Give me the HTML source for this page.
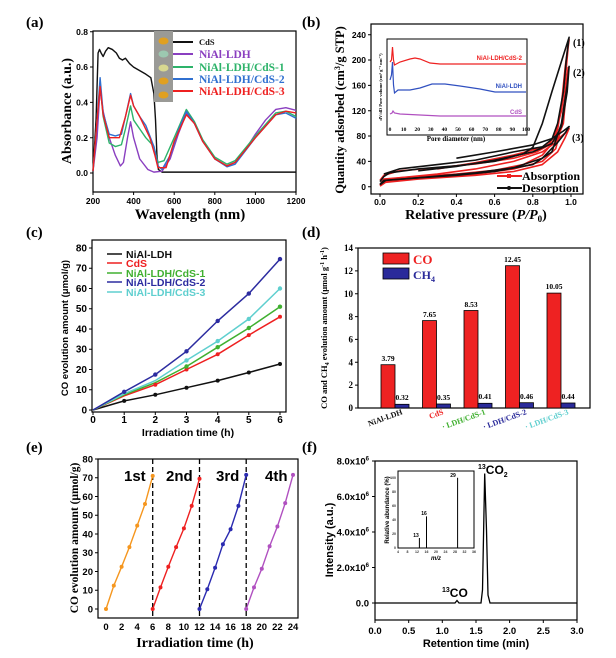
<!DOCTYPE html>
<html><head><meta charset="utf-8"><style>body{margin:0;background:#fff}svg{display:block}
.s{font-family:"Liberation Sans",sans-serif;font-weight:bold}
.r{font-family:"Liberation Serif",serif;font-weight:bold}
.n{vector-effect:non-scaling-stroke;fill:none}
</style></head><body>
<svg width="616" height="658" viewBox="0 0 616 658" xmlns="http://www.w3.org/2000/svg">
<!-- ========== (a) ========== -->
<text x="26" y="27" class="r" font-size="15">(a)</text>
<rect x="93" y="31" width="203" height="161" fill="none" stroke="#000" stroke-width="1.2"/>
<g stroke="#000" stroke-width="1"><path d="M90 31.7h3M90 67h3M90 102.4h3M90 137.7h3M90 173h3M93 192v3M133.6 192v3M174.2 192v3M214.8 192v3M255.4 192v3M296 192v3"/></g>
<g class="s" font-size="8.5" text-anchor="end"><text x="88" y="35">0.8</text><text x="88" y="70">0.6</text><text x="88" y="105.5">0.4</text><text x="88" y="141">0.2</text><text x="88" y="176">0.0</text></g>
<g class="s" font-size="8.5" text-anchor="middle"><text x="93" y="204">200</text><text x="133.6" y="204">400</text><text x="174.2" y="204">600</text><text x="214.8" y="204">800</text><text x="255.4" y="204">1000</text><text x="296" y="204">1200</text></g>
<text x="190" y="219" class="r" font-size="15" text-anchor="middle">Wavelength (nm)</text>
<text transform="translate(71,111) rotate(-90)" class="r" font-size="14" text-anchor="middle">Absorbance (a.u.)</text>
<g transform="translate(93,173) scale(0.203,-176.5) translate(-200,0)" stroke-width="1.4" stroke-linejoin="round">
<polyline class="n" stroke="#111" points="200,0.01 215,0.3 225,0.68 232,0.7 240,0.68 250,0.66 262,0.69 275,0.71 295,0.7 315,0.68 330,0.65 345,0.64 360,0.65 380,0.62 400,0.6 430,0.58 460,0.56 485,0.54 500,0.45 508,0.3 515,0.1 522,0.02 540,0.005 1200,0.005"/>
<polyline class="n" stroke="#8a3fc0" points="200,0.01 220,0.2 235,0.48 250,0.35 280,0.2 310,0.1 335,0.04 350,0.06 370,0.2 385,0.29 400,0.2 430,0.08 470,0.02 500,0.005 540,0.01 580,0.08 620,0.22 660,0.34 700,0.28 740,0.18 760,0.15 800,0.08 860,0.04 900,0.06 950,0.13 1000,0.22 1050,0.3 1100,0.36 1150,0.37 1200,0.355"/>
<polyline class="n" stroke="#2db36a" points="200,0.01 220,0.3 235,0.5 250,0.32 280,0.17 310,0.15 340,0.16 360,0.25 385,0.38 400,0.3 430,0.25 460,0.2 500,0.15 520,0.06 550,0.07 600,0.2 660,0.36 700,0.29 740,0.19 800,0.09 860,0.05 900,0.07 1000,0.21 1100,0.34 1150,0.35 1200,0.32"/>
<polyline class="n" stroke="#3070d0" points="200,0.01 220,0.3 235,0.54 250,0.34 280,0.22 310,0.21 340,0.22 360,0.32 385,0.45 400,0.38 430,0.32 460,0.27 500,0.15 520,0.04 540,0.02 580,0.1 620,0.24 660,0.35 700,0.28 740,0.18 800,0.08 860,0.035 900,0.05 1000,0.2 1100,0.33 1150,0.34 1200,0.31"/>
<polyline class="n" stroke="#ee2020" points="200,0.01 220,0.3 235,0.49 250,0.33 280,0.2 300,0.2 330,0.2 360,0.32 385,0.44 400,0.38 430,0.32 480,0.2 505,0.1 520,0.03 560,0.03 600,0.18 660,0.33 700,0.28 740,0.18 800,0.08 860,0.04 900,0.06 1000,0.2 1100,0.33 1150,0.35 1200,0.34"/>
</g>
<rect x="154" y="31" width="19" height="71" fill="#9a9a96"/>
<g><ellipse cx="163.5" cy="41" rx="5" ry="3.5" fill="#e0a020"/><ellipse cx="163.5" cy="54" rx="5" ry="3.5" fill="#9cc8b0"/><ellipse cx="163.5" cy="68" rx="5" ry="3.5" fill="#d8d890"/><ellipse cx="163.5" cy="81" rx="5" ry="3.5" fill="#e0a020"/><ellipse cx="163.5" cy="95" rx="5" ry="3.5" fill="#e0a020"/></g>
<g stroke-width="2"><path d="M173 42h20" stroke="#111"/><path d="M173 54h20" stroke="#8a3fc0"/><path d="M173 67h20" stroke="#2db36a"/><path d="M173 79h20" stroke="#3070d0"/><path d="M173 91h20" stroke="#ee2020"/></g>
<g class="r"><text x="199" y="45" font-size="8.5" fill="#111">CdS</text><text x="199" y="58" font-size="11.5" fill="#8a3fc0">NiAl-LDH</text><text x="199" y="71" font-size="11.5" fill="#2db36a">NiAl-LDH/CdS-1</text><text x="199" y="83" font-size="11.5" fill="#3070d0">NiAl-LDH/CdS-2</text><text x="199" y="95" font-size="11.5" fill="#ee2020">NiAl-LDH/CdS-3</text></g>

<!-- ========== (b) ========== -->
<text x="302" y="27" class="r" font-size="15">(b)</text>
<rect x="371" y="24" width="212" height="170" fill="none" stroke="#000" stroke-width="1.2"/>
<g stroke="#000"><path d="M368 34.7h3M368 60h3M368 85.4h3M368 110.7h3M368 136h3M368 161.4h3M368 186.7h3M380 194v3M418.2 194v3M456.4 194v3M494.6 194v3M532.8 194v3M571 194v3"/></g>
<g class="s" font-size="8.5" text-anchor="end"><text x="366" y="38">240</text><text x="366" y="63">200</text><text x="366" y="88.5">160</text><text x="366" y="114">120</text><text x="366" y="139">80</text><text x="366" y="164.5">40</text><text x="366" y="190">0</text></g>
<g class="s" font-size="8.5" text-anchor="middle"><text x="380" y="205">0.0</text><text x="418.2" y="205">0.2</text><text x="456.4" y="205">0.4</text><text x="494.6" y="205">0.6</text><text x="532.8" y="205">0.8</text><text x="571" y="205">1.0</text></g>
<text x="476" y="219" class="r" font-size="14" text-anchor="middle">Relative pressure (<tspan font-style="italic">P/P</tspan><tspan font-size="9" dy="3">0</tspan><tspan dy="-3">)</tspan></text>
<text transform="translate(344,110) rotate(-90)" class="r" font-size="12.5" text-anchor="middle">Quantity adsorbed (cm<tspan font-size="8" dy="-4">3</tspan><tspan dy="4">/g STP)</tspan></text>
<g transform="translate(380,186.7) scale(191,-0.633)" stroke-width="1.6" stroke-linejoin="round">
<polyline class="n" stroke="#ee2020" points="0,3 0.02,12 0.1,14 0.2,16 0.4,20 0.6,26 0.75,35 0.85,50 0.9,68 0.93,90 0.95,130 0.97,190 0.985,225 0.99,232 0.985,220 0.97,170 0.95,120 0.92,85 0.88,65 0.82,55 0.7,45 0.5,36 0.3,30 0.1,25 0.02,18 0,10"/>
<polyline class="n" stroke="#ee2020" points="0,2 0.02,8 0.1,11 0.3,15 0.5,20 0.7,28 0.85,40 0.92,60 0.95,95 0.97,150 0.985,188 0.975,150 0.96,100 0.92,70 0.85,55 0.7,40 0.5,28 0.3,20 0.1,14 0.02,10"/>
<polyline class="n" stroke="#ee2020" points="0,1 0.03,7 0.2,12 0.5,18 0.7,24 0.85,35 0.93,55 0.97,78 0.99,92 0.97,85 0.93,75 0.85,62 0.7,50 0.5,38 0.3,28"/>
<polyline class="n" stroke="#111" points="0,8 0.02,16 0.05,22 0.2,28 0.4,33 0.6,40 0.75,52 0.8,62 0.85,100 0.9,150 0.95,198 0.99,236 0.975,200 0.96,150 0.93,100 0.9,75 0.85,63 0.7,55 0.5,42 0.3,35 0.1,28 0.02,20"/>
<polyline class="n" stroke="#111" points="0,4 0.02,10 0.2,14 0.4,18 0.6,24 0.8,35 0.9,55 0.95,100 0.98,160 0.99,190 0.98,150 0.95,95 0.9,68 0.8,55 0.6,42 0.4,32 0.2,25"/>
<polyline class="n" stroke="#111" points="0,3 0.03,10 0.2,14 0.5,22 0.7,30 0.85,45 0.93,70 0.97,85 0.99,95 0.96,88 0.9,76 0.8,66 0.6,55 0.4,45"/>
</g>
<g class="r" font-size="10"><text x="573" y="46">(1)</text><text x="573" y="76">(2)</text><text x="572" y="141">(3)</text></g>
<path d="M497 176h25" stroke="#ee2020" stroke-width="2"/><rect x="507" y="174" width="4" height="4" fill="#ee2020"/>
<path d="M497 188h25" stroke="#111" stroke-width="2"/><circle cx="509" cy="188" r="2" fill="#111"/>
<g class="r" font-size="12"><text x="522" y="180">Absorption</text><text x="522" y="192">Desorption</text></g>
<!-- inset b -->
<rect x="387" y="39" width="140" height="96" fill="#fff" stroke="#000" stroke-width="1"/>
<g class="n" stroke-width="1.2"><polyline stroke="#ee2020" points="390,62 391.5,60 392.5,47 393.5,60 394.5,65 400,62 410,59 415,58 420,59 430,63 440,64 526,64"/>
<polyline stroke="#3050c0" points="390,80 391.5,75 392.5,62 393.5,85 394.5,93 398,90 410,90 420,88 432,84 445,84 460,86 480,89 495,92 526,92"/>
<polyline stroke="#b050c0" points="390,114 392,113 393,111 394.5,113 400,114 420,115 440,116 526,116"/></g>
<g class="s" font-size="6" text-anchor="end"><text x="522" y="60" fill="#ee2020">NiAl-LDH/CdS-2</text><text x="522" y="88" fill="#3050c0">NiAl-LDH</text><text x="522" y="114" fill="#b050c0">CdS</text></g>
<g class="r" font-size="5.5" text-anchor="middle"><text x="390" y="131">0</text><text x="403.6" y="131">10</text><text x="417.2" y="131">20</text><text x="430.8" y="131">30</text><text x="444.4" y="131">40</text><text x="458" y="131">50</text><text x="471.6" y="131">60</text><text x="485.2" y="131">70</text><text x="498.8" y="131">80</text><text x="512.4" y="131">90</text><text x="526" y="131">100</text></g>
<text x="456" y="141" class="r" font-size="7" text-anchor="middle">Pore diameter (nm)</text>
<text transform="translate(382,87) rotate(-90)" class="r" font-size="4.5" text-anchor="middle">dV/dD Pore volume (cm³ g⁻¹ nm⁻¹)</text>

<!-- ========== (c) ========== -->
<text x="26" y="237" class="r" font-size="15">(c)</text>
<rect x="92" y="240" width="194" height="172" fill="none" stroke="#000" stroke-width="1.2"/>
<g stroke="#000"><path d="M89 248h3M89 268.3h3M89 288.5h3M89 308.8h3M89 329h3M89 349.3h3M89 369.5h3M89 389.8h3M89 410h3M93 412v3M124.2 412v3M155.3 412v3M186.5 412v3M217.7 412v3M248.8 412v3M280 412v3"/></g>
<g class="s" font-size="10" text-anchor="end"><text x="87" y="251.5">80</text><text x="87" y="271.5">70</text><text x="87" y="292">60</text><text x="87" y="312">50</text><text x="87" y="332.5">40</text><text x="87" y="352.5">30</text><text x="87" y="373">20</text><text x="87" y="393">10</text><text x="87" y="413.5">0</text></g>
<g class="s" font-size="10" text-anchor="middle"><text x="93" y="423">0</text><text x="124.2" y="423">1</text><text x="155.3" y="423">2</text><text x="186.5" y="423">3</text><text x="217.7" y="423">4</text><text x="248.8" y="423">5</text><text x="280" y="423">6</text></g>
<text x="188" y="436" class="s" font-size="10.5" text-anchor="middle">Irradiation time (h)</text>
<text transform="translate(68,328) rotate(-90)" class="s" font-size="9.5" text-anchor="middle">CO evolution amount (μmol/g)</text>
<g fill="none" stroke-width="1.5">
<polyline stroke="#111" points="93,410 124.2,400.9 155.3,394.8 186.5,387.7 217.7,380.6 248.8,372.5 280,364"/>
<polyline stroke="#ee2020" points="93,410 124.2,395.8 155.3,384.7 186.5,369.5 217.7,354.3 248.8,335.1 280,316.8"/>
<polyline stroke="#40b030" points="93,410 124.2,394.8 155.3,382.7 186.5,366.5 217.7,347.2 248.8,328 280,306.7"/>
<polyline stroke="#5fcfcf" points="93,410 124.2,393.8 155.3,380.6 186.5,360.4 217.7,341.1 248.8,318.9 280,288.5"/>
<polyline stroke="#2c2ca0" points="93,410 124.2,391.8 155.3,374.6 186.5,351.3 217.7,320.9 248.8,293.6 280,259.1"/>
</g>
<g><g fill="#111"><circle cx="124.2" cy="400.9" r="2"/><circle cx="155.3" cy="394.8" r="2"/><circle cx="186.5" cy="387.7" r="2"/><circle cx="217.7" cy="380.6" r="2"/><circle cx="248.8" cy="372.5" r="2"/><circle cx="280" cy="364" r="2"/></g>
<g fill="#ee2020"><circle cx="155.3" cy="384.7" r="2"/><circle cx="186.5" cy="369.5" r="2"/><circle cx="217.7" cy="354.3" r="2"/><circle cx="248.8" cy="335.1" r="2"/><circle cx="280" cy="316.8" r="2"/></g>
<g fill="#40b030"><circle cx="186.5" cy="366.5" r="2.2"/><circle cx="217.7" cy="347.2" r="2.2"/><circle cx="248.8" cy="328" r="2.2"/><circle cx="280" cy="306.7" r="2.2"/></g>
<g fill="#5fcfcf"><circle cx="186.5" cy="360.4" r="2.2"/><circle cx="217.7" cy="341.1" r="2.2"/><circle cx="248.8" cy="318.9" r="2.2"/><circle cx="280" cy="288.5" r="2.2"/></g>
<g fill="#2c2ca0"><circle cx="124.2" cy="391.8" r="2.2"/><circle cx="155.3" cy="374.6" r="2.2"/><circle cx="186.5" cy="351.3" r="2.2"/><circle cx="217.7" cy="320.9" r="2.2"/><circle cx="248.8" cy="293.6" r="2.2"/><circle cx="280" cy="259.1" r="2.2"/></g></g>
<g stroke-width="1.5"><path d="M107 254h15" stroke="#111"/><path d="M107 263h15" stroke="#ee2020"/><path d="M107 273h15" stroke="#40b030"/><path d="M107 282h15" stroke="#2c2ca0"/><path d="M107 292h15" stroke="#5fcfcf"/></g>
<g class="s" font-size="10.5"><text x="126" y="258" fill="#111">NiAl-LDH</text><text x="126" y="267" fill="#ee2020">CdS</text><text x="126" y="277" fill="#40b030">NiAl-LDH/CdS-1</text><text x="126" y="286" fill="#2c2ca0">NiAl-LDH/CdS-2</text><text x="126" y="296" fill="#5fcfcf">NiAl-LDH/CdS-3</text></g>

<!-- ========== (d) ========== -->
<text x="302" y="237" class="r" font-size="15">(d)</text>
<rect x="358" y="248" width="232" height="160" fill="none" stroke="#000" stroke-width="1.2"/>
<g stroke="#000"><path d="M355 248h3M355 270.9h3M355 293.7h3M355 316.6h3M355 339.4h3M355 362.3h3M355 385.1h3M355 408h3"/></g>
<g class="r" font-size="9" text-anchor="end"><text x="353" y="251">14</text><text x="353" y="274">12</text><text x="353" y="297">10</text><text x="353" y="320">8</text><text x="353" y="342.5">6</text><text x="353" y="365.5">4</text><text x="353" y="388">2</text><text x="353" y="411">0</text></g>
<g stroke="#000" stroke-width="0.8">
<rect x="381" y="364.7" width="14" height="43.3" fill="#ee2222"/><rect x="395" y="404.3" width="14" height="3.7" fill="#2a2a9a"/>
<rect x="422.5" y="320.6" width="14" height="87.4" fill="#ee2222"/><rect x="436.5" y="404" width="14" height="4" fill="#2a2a9a"/>
<rect x="464" y="310.5" width="14" height="97.5" fill="#ee2222"/><rect x="478" y="403.3" width="14" height="4.7" fill="#2a2a9a"/>
<rect x="505.5" y="265.7" width="14" height="142.3" fill="#ee2222"/><rect x="519.5" y="402.7" width="14" height="5.3" fill="#2a2a9a"/>
<rect x="547" y="293.1" width="14" height="114.9" fill="#ee2222"/><rect x="561" y="403" width="14" height="5" fill="#2a2a9a"/></g>
<g class="r" font-size="7.5" text-anchor="middle"><text x="388" y="361">3.79</text><text x="402" y="400">0.32</text><text x="429.5" y="317">7.65</text><text x="443.5" y="400">0.35</text><text x="471" y="307">8.53</text><text x="485" y="399">0.41</text><text x="512.5" y="262">12.45</text><text x="526.5" y="399">0.46</text><text x="554" y="289">10.05</text><text x="568" y="399">0.44</text></g>
<rect x="383" y="253" width="26" height="11" fill="#ee2222" stroke="#000" stroke-width="0.8"/>
<rect x="383" y="268" width="26" height="11" fill="#2a2a9a" stroke="#000" stroke-width="0.8"/>
<text x="413" y="264" class="r" font-size="13" fill="#ee2222" font-weight="normal">CO</text>
<text x="413" y="279" class="r" font-size="12" fill="#2a2a9a" font-weight="normal">CH<tspan font-size="8" dy="3">4</tspan></text>
<g class="r" font-size="8" text-anchor="end">
<text transform="translate(403,414) rotate(-20)" fill="#111">NiAl-LDH</text>
<text transform="translate(444,414) rotate(-20)" fill="#ee2222">CdS</text>
<text transform="translate(486,414) rotate(-20)" fill="#40b030">· LDH/CdS-1</text>
<text transform="translate(527,414) rotate(-20)" fill="#2a2a9a">· LDH/CdS-2</text>
<text transform="translate(569,414) rotate(-20)" fill="#5fcfcf">· LDH/CdS-3</text></g>
<text transform="translate(327,328) rotate(-90)" class="r" font-size="8.5" text-anchor="middle">CO and CH<tspan font-size="6" dy="2">4</tspan><tspan dy="-2"> evolution amount (μmol g</tspan><tspan font-size="6" dy="-3">-1</tspan><tspan dy="3"> h</tspan><tspan font-size="6" dy="-3">-1</tspan><tspan dy="3">)</tspan></text>

<!-- ========== (e) ========== -->
<text x="26" y="452" class="r" font-size="15">(e)</text>
<rect x="98" y="459" width="200" height="159" fill="none" stroke="#000" stroke-width="1.2"/>
<g stroke="#000"><path d="M95 459h3M95 477.8h3M95 496.5h3M95 515.3h3M95 534h3M95 552.8h3M95 571.5h3M95 590.3h3M95 609h3"/></g>
<g class="s" font-size="9.5" text-anchor="end"><text x="93" y="462.5">80</text><text x="93" y="481">70</text><text x="93" y="500">60</text><text x="93" y="518.5">50</text><text x="93" y="537.5">40</text><text x="93" y="556">30</text><text x="93" y="575">20</text><text x="93" y="593.5">10</text><text x="93" y="612.5">0</text></g>
<g class="s" font-size="9.5" text-anchor="middle"><text x="106" y="630">0</text><text x="121.6" y="630">2</text><text x="137.2" y="630">4</text><text x="152.7" y="630">6</text><text x="168.3" y="630">8</text><text x="183.9" y="630">10</text><text x="199.5" y="630">12</text><text x="215.1" y="630">14</text><text x="230.6" y="630">16</text><text x="246.2" y="630">18</text><text x="261.8" y="630">20</text><text x="277.4" y="630">22</text><text x="293" y="630">24</text></g>
<text x="195" y="647" class="r" font-size="14" text-anchor="middle">Irradiation time (h)</text>
<text transform="translate(78,538) rotate(-90)" class="r" font-size="11.5" text-anchor="middle">CO evolution amount (μmol/g)</text>
<g stroke="#000" stroke-width="1.3" stroke-dasharray="5,3"><path d="M152.7 459v159M199.5 459v159M246.2 459v159"/></g>
<g fill="none" stroke-width="1.4">
<polyline stroke="#f5961e" points="106,609 113.8,585.6 121.6,566.8 129.4,547.1 137.2,525.6 145,504 152.7,475.9"/>
<polyline stroke="#ee2020" points="152.7,609 160.5,587.4 168.3,566.8 176.1,547.1 183.9,528.4 191.7,505.9 199.5,478.7"/>
<polyline stroke="#2a2ab0" points="199.5,609 207.3,589.3 215.1,567.8 222.9,544.3 230.6,529.3 238.4,505.9 246.2,474.9"/>
<polyline stroke="#b050c0" points="246.2,609 254,587.4 261.8,568.7 269.6,546.2 277.4,526.5 285.2,503.1 293,474.9"/></g>
<g fill="#f5961e"><circle cx="106" cy="609" r="2"/><circle cx="113.8" cy="585.6" r="2"/><circle cx="121.6" cy="566.8" r="2"/><circle cx="129.4" cy="547.1" r="2"/><circle cx="137.2" cy="525.6" r="2"/><circle cx="145" cy="504" r="2"/><circle cx="152.7" cy="475.9" r="2"/></g>
<g fill="#ee2020"><circle cx="152.7" cy="609" r="2"/><circle cx="160.5" cy="587.4" r="2"/><circle cx="168.3" cy="566.8" r="2"/><circle cx="176.1" cy="547.1" r="2"/><circle cx="183.9" cy="528.4" r="2"/><circle cx="191.7" cy="505.9" r="2"/><circle cx="199.5" cy="478.7" r="2"/></g>
<g fill="#2a2ab0"><circle cx="199.5" cy="609" r="2"/><circle cx="207.3" cy="589.3" r="2"/><circle cx="215.1" cy="567.8" r="2"/><circle cx="222.9" cy="544.3" r="2"/><circle cx="230.6" cy="529.3" r="2"/><circle cx="238.4" cy="505.9" r="2"/><circle cx="246.2" cy="474.9" r="2"/></g>
<g fill="#b050c0"><circle cx="246.2" cy="609" r="2"/><circle cx="254" cy="587.4" r="2"/><circle cx="261.8" cy="568.7" r="2"/><circle cx="269.6" cy="546.2" r="2"/><circle cx="277.4" cy="526.5" r="2"/><circle cx="285.2" cy="503.1" r="2"/><circle cx="293" cy="474.9" r="2"/></g>
<g class="s" font-size="15"><text x="124" y="481">1st</text><text x="166" y="481">2nd</text><text x="216" y="481">3rd</text><text x="265" y="481">4th</text></g>

<!-- ========== (f) ========== -->
<text x="302" y="452" class="r" font-size="15">(f)</text>
<rect x="375" y="461" width="202" height="159" fill="none" stroke="#000" stroke-width="1.2"/>
<g stroke="#000"><path d="M372 461h3M372 496.5h3M372 532h3M372 567.5h3M372 603h3M375 620v3M408.7 620v3M442.3 620v3M476 620v3M509.6 620v3M543.3 620v3M577 620v3"/></g>
<g class="s" font-size="9.5" text-anchor="end"><text x="369" y="464.5">8.0x10<tspan font-size="6" dy="-4">6</tspan></text><text x="369" y="500">6.0x10<tspan font-size="6" dy="-4">6</tspan></text><text x="369" y="535.5">4.0x10<tspan font-size="6" dy="-4">6</tspan></text><text x="369" y="571">2.0x10<tspan font-size="6" dy="-4">6</tspan></text><text x="369" y="606.5">0.0</text></g>
<g class="s" font-size="9.5" text-anchor="middle"><text x="375" y="634">0.0</text><text x="408.7" y="634">0.5</text><text x="442.3" y="634">1.0</text><text x="476" y="634">1.5</text><text x="509.6" y="634">2.0</text><text x="543.3" y="634">2.5</text><text x="577" y="634">3.0</text></g>
<text x="476" y="647" class="s" font-size="11" text-anchor="middle">Retention time (min)</text>
<text transform="translate(333,540) rotate(-90)" class="s" font-size="11" text-anchor="middle">Intensity (a.u.)</text>
<polyline fill="none" stroke="#000" stroke-width="1.3" points="375,603 455,603 457,600.5 459,603 481,603 482.5,590 484.7,473.5 486.5,530 488,595 490,603 577,603"/>
<text x="478" y="474" class="s" font-size="12"><tspan font-size="7" dy="-5">13</tspan><tspan dy="5">CO</tspan><tspan font-size="7" dy="3">2</tspan></text>
<text x="442" y="597" class="s" font-size="12"><tspan font-size="7" dy="-5">13</tspan><tspan dy="5">CO</tspan></text>
<rect x="398" y="471" width="76" height="77" fill="#fff" stroke="#000" stroke-width="1"/>
<g stroke="#000" stroke-width="1"><path d="M419.4 548v-10M426.5 548v-31.6M457.6 548v-70.3"/></g>
<g class="s" font-size="5" text-anchor="middle"><text x="416" y="537">13</text><text x="424" y="515">16</text><text x="453" y="477">29</text></g>
<g class="s" font-size="3.5" text-anchor="middle" fill="#333"><text x="398" y="553">4</text><text x="407.5" y="553">8</text><text x="417" y="553">12</text><text x="426.5" y="553">16</text><text x="436" y="553">20</text><text x="445.5" y="553">24</text><text x="455" y="553">28</text><text x="464.5" y="553">32</text><text x="474" y="553">36</text></g>
<g class="s" font-size="3.5" text-anchor="end" fill="#333"><text x="396" y="549">0</text><text x="396" y="535">20</text><text x="396" y="521">40</text><text x="396" y="507">60</text><text x="396" y="493">80</text><text x="396" y="479">100</text></g>
<text x="436" y="560" class="s" font-size="6" font-style="italic" text-anchor="middle">m/z</text>
<text transform="translate(389,510) rotate(-90)" class="s" font-size="6" text-anchor="middle">Relative abundance (%)</text>
</svg>
</body></html>
